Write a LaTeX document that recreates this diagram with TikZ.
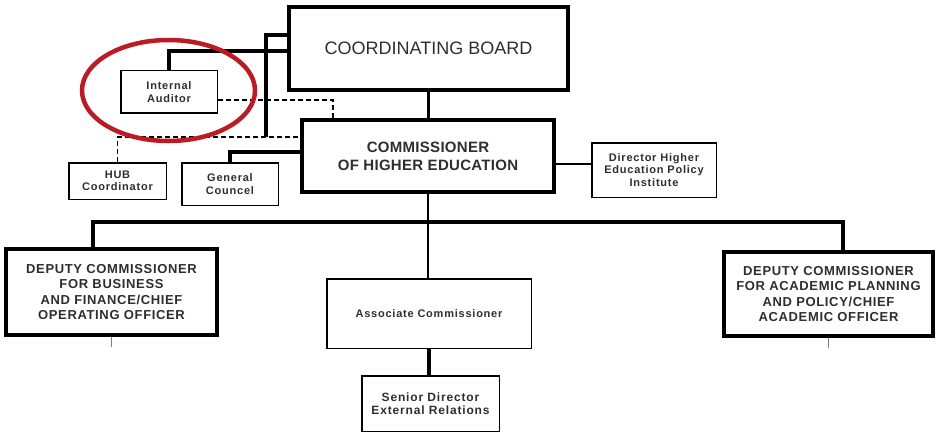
\documentclass[tikz,border=0pt]{standalone}
\usepackage{fontspec}
\setmainfont{Liberation Sans}
\newfontfamily\widesans{Liberation Sans}[LetterSpace=7]
\newfontfamily\midsans{Liberation Sans}[LetterSpace=5]
\newfontfamily\tightsans{Liberation Sans}[LetterSpace=2]
\usetikzlibrary{positioning}
\definecolor{inkgray}{HTML}{2E2E2E}
\definecolor{ringred}{RGB}{185,28,34}
\tikzset{topbox/.style={draw=black,line width=4pt,inner sep=0pt,align=center,text=inkgray}}
\tikzset{unitbox/.style={draw=black,line width=1.5pt,inner sep=0pt,align=center,text=inkgray,font=\widesans\bfseries\fontsize{11}{12.5}\selectfont}}
\tikzset{heavy/.style={line width=3.5pt},midline/.style={line width=2.5pt},thinline/.style={line width=1.5pt}}
\tikzset{dashline/.style={line width=1.5pt,dash pattern=on 5pt off 3pt},stub/.style={line width=1pt,gray}}
\tikzset{ring/.style={draw=ringred,line width=4.5pt}}

\begin{document}
\begin{tikzpicture}[x=1pt,y=-1pt]
\useasboundingbox (0,0) rectangle (936,433);
% \draw[help lines,step=50pt] (0,0) grid (936,433);
\node (cb) [topbox,minimum width=279pt,minimum height=83pt,font=\fontsize{18}{20}\selectfont] at (428.5,48.5) {COORDINATING BOARD};
\node (comm) [topbox,minimum width=252pt,minimum height=72pt,font=\tightsans\bfseries\fontsize{15}{18}\selectfont] at (428,156) {COMMISSIONER\\OF HIGHER EDUCATION};
\node (dir) [unitbox,minimum width=124.5pt,minimum height=54.5pt] at (654,170) {Director Higher\\Education Policy\\Institute};
\node (audit) [unitbox,minimum width=96.5pt,minimum height=42.5pt] at (169,92) {Internal\\Auditor};
\node (hub) [unitbox,minimum width=97.5pt,minimum height=36.5pt] at (117.5,181) {HUB\\Coordinator};
\node (gc) [unitbox,minimum width=96.5pt,minimum height=42.5pt] at (230,184) {General\\Councel};
\node (depl) [topbox,minimum width=211pt,minimum height=86pt,font=\midsans\bfseries\fontsize{13}{15.3}\selectfont] at (111.5,292) {DEPUTY COMMISSIONER\\FOR BUSINESS\\AND FINANCE/CHIEF\\OPERATING OFFICER};
\node (assoc) [unitbox,minimum width=204.5pt,minimum height=69.5pt] at (429,313.5) {Associate Commissioner};
\node (senior) [unitbox,minimum width=137.5pt,minimum height=55.5pt,font=\widesans\bfseries\fontsize{12}{13.5}\selectfont] at (430.5,403.5) {Senior Director\\External Relations};
\node (depr) [topbox,minimum width=209pt,minimum height=84pt,font=\midsans\bfseries\fontsize{13}{15.3}\selectfont] at (828.5,294) {DEPUTY COMMISSIONER\\FOR ACADEMIC PLANNING\\AND POLICY/CHIEF\\ACADEMIC OFFICER};
%
\coordinate (bus) at (428,222);
\coordinate (tap) at (266,137);
%
\draw[midline] (cb.south) -- (cb.south |- comm.north);
\draw[thinline] ([yshift=-8pt]comm.east) -- ([yshift=-8pt]comm.east -| dir.west);
\draw[heavy] (audit.north) |- ([yshift=-2.5pt]cb.west);
\draw[heavy] ([yshift=13.5pt]cb.west) -| (tap);
\draw[dashline] ([yshift=-8pt]audit.east) -| ([xshift=-95pt]comm.north);
\draw[dashline] (hub.north) |- ([yshift=19pt]comm.west);
\draw[heavy] (gc.north) |- ([yshift=4pt]comm.west);
\draw[midline] (comm.south) -- (comm.south |- assoc.north);
\draw[heavy] ([xshift=-18.5pt]depl.north) |- (bus) -| ([xshift=14.5pt]depr.north);
\draw[heavy,line width=4pt] (assoc.south) -- (assoc.south |- senior.north);
\draw[stub] (depl.south) -- ++(0,10);
\draw[stub] (depr.south) -- ++(0,10);
%
\draw[ring] (168.5,90.5) ellipse [x radius=86.5pt,y radius=50.5pt];
\end{tikzpicture}
\end{document}
